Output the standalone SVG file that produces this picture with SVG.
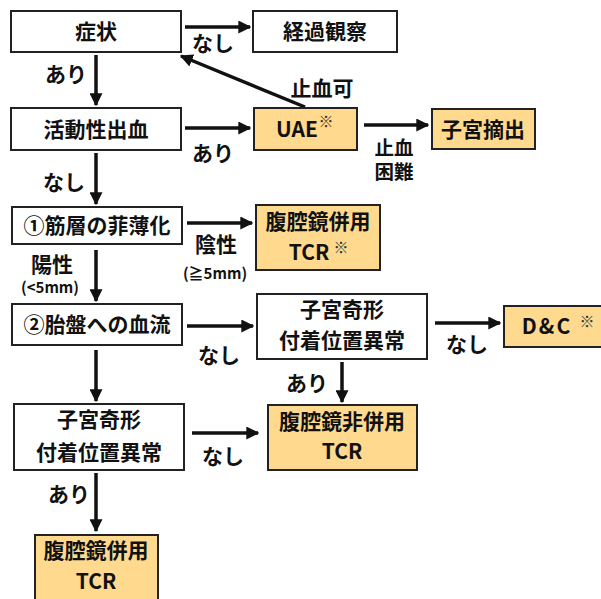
<svg xmlns="http://www.w3.org/2000/svg" width="601" height="599" viewBox="0 0 601 599">
<defs>
<style>
.box{fill:#fff;stroke:#222;stroke-width:2}
.or{fill:#FFD98E;stroke:#222;stroke-width:2}
text{font-family:"Noto Sans CJK JP","Noto Sans",sans-serif;font-weight:bold;fill:#111;text-anchor:middle}
.t{font-size:21px}
.t2{font-size:19.5px}
.s{font-size:15px}
.sup{font-size:15px;font-weight:normal;fill:#333}
.ar{stroke:#111;stroke-width:3.5;fill:none;marker-end:url(#ah)}
</style>
<marker id="ah" viewBox="0 0 10 10" refX="9" refY="5" markerUnits="userSpaceOnUse" markerWidth="13" markerHeight="13" orient="auto">
<path d="M0,0 L10,5 L0,10 z" fill="#111"/>
</marker>
</defs>
<rect width="601" height="599" fill="#fff"/>
<g id="connectors">
<line class="ar" x1="185" y1="27" x2="250" y2="27"/>
<line class="ar" x1="96" y1="55" x2="96" y2="105"/>
<line class="ar" x1="185" y1="128" x2="250" y2="128"/>
<line class="ar" x1="305" y1="107" x2="181" y2="56"/>
<line class="ar" x1="364" y1="125" x2="428" y2="125"/>
<line class="ar" x1="96" y1="153" x2="96" y2="204"/>
<line class="ar" x1="187" y1="223" x2="252" y2="223"/>
<line class="ar" x1="96" y1="250" x2="96" y2="301"/>
<line class="ar" x1="187" y1="326" x2="253" y2="326"/>
<line class="ar" x1="435" y1="323" x2="500" y2="323"/>
<line class="ar" x1="96" y1="350" x2="96" y2="401"/>
<line class="ar" x1="342" y1="362" x2="342" y2="402"/>
<line class="ar" x1="192" y1="433" x2="258" y2="433"/>
<line class="ar" x1="96" y1="473" x2="96" y2="531"/>
<text class="t" x="213" y="51">なし</text>
<text class="t" x="66" y="82">あり</text>
<text class="t" x="322" y="96">止血可</text>
<text class="t" x="213" y="161">あり</text>
<text class="t2" x="394" y="155">止血<tspan x="394" y="179">困難</tspan></text>
<text class="t" x="64" y="190">なし</text>
<text class="t" x="216" y="252">陰性</text>
<text class="s" x="215" y="279">(≧5mm)</text>
<text class="t" x="52" y="272">陽性</text>
<text class="s" x="50" y="293">(&lt;5mm)</text>
<text class="t" x="219" y="363">なし</text>
<text class="t" x="467" y="352">なし</text>
<text class="t" x="307" y="391">あり</text>
<text class="t" x="223" y="464">なし</text>
<text class="t" x="69" y="502">あり</text>
</g>
<g id="n1"><rect class="box" x="11" y="11" width="170" height="41"/><text class="t" x="96" y="39">症状</text></g>
<g id="n2"><rect class="box" x="253" y="11" width="144" height="41"/><text class="t" x="325" y="39">経過観察</text></g>
<g id="n3"><rect class="box" x="11" y="108" width="170" height="42"/><text class="t" x="96" y="137">活動性出血</text></g>
<g id="n4"><rect class="or" x="254" y="108" width="103" height="42"/><text class="t" x="297" y="137">UAE</text><text class="sup" x="326" y="127">※</text></g>
<g id="n5"><rect class="or" x="432" y="109" width="103" height="40"/><text class="t" x="483" y="137">子宮摘出</text></g>
<g id="n6"><rect class="box" x="12" y="207" width="170" height="37"/><text class="t" x="97" y="233">①筋層の菲薄化</text></g>
<g id="n7"><rect class="or" x="256" y="205" width="124" height="65"/><text class="t" x="318" y="229">腹腔鏡併用</text><text class="t" x="309" y="260">TCR</text><text class="sup" x="341" y="253">※</text></g>
<g id="n8"><rect class="box" x="12" y="304" width="170" height="41"/><text class="t" x="97" y="332">②胎盤への血流</text></g>
<g id="n9"><rect class="box" x="257" y="294" width="170" height="65"/><text class="t" x="342" y="317">子宮奇形</text><text class="t" x="342" y="348">付着位置異常</text></g>
<g id="n10"><rect class="or" x="504" y="306" width="110" height="41"/><text class="t" x="547" y="334" letter-spacing="2">D&amp;C</text><text class="sup" x="587" y="327">※</text></g>
<g id="n11"><rect class="box" x="14" y="404" width="170" height="66"/><text class="t" x="99" y="427">子宮奇形</text><text class="t" x="99" y="460">付着位置異常</text></g>
<g id="n12"><rect class="or" x="268" y="405" width="149" height="65"/><text class="t" x="342" y="429">腹腔鏡非併用</text><text class="t" x="342" y="459">TCR</text></g>
<g id="n13"><rect class="or" x="35" y="535" width="123" height="70"/><text class="t" x="96" y="558">腹腔鏡併用</text><text class="t" x="96" y="589">TCR</text></g>
</svg>
